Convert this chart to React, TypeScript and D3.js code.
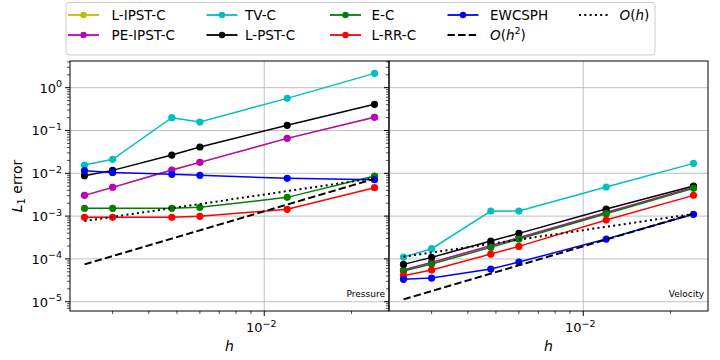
import React from 'react';
import * as d3 from 'd3';

const hValues = [0.0024, 0.003, 0.0048, 0.006, 0.012, 0.024];
const refH = [0.0024, 0.024];

// Pressure panel
const pLIPST = [0.00305, 0.00469, 0.0119, 0.018, 0.0655, 0.203];
const pPEIPST = [0.00305, 0.00469, 0.0119, 0.018, 0.0655, 0.203];
const pTV = [0.0156, 0.0212, 0.199, 0.158, 0.563, 2.16];
const pLPST = [0.00879, 0.0117, 0.0267, 0.0411, 0.132, 0.408];
const pEC = [0.00152, 0.00152, 0.00152, 0.0016, 0.00274, 0.00863];
const pLRR = [0.000934, 0.000934, 0.000934, 0.000986, 0.00144, 0.00461];
const pEWC = [0.0115, 0.0105, 0.00944, 0.00895, 0.00762, 0.00709];
const pOh = [7.67e-4, 7.67e-3];
const pOh2 = [7.45e-5, 7.45e-3];

// Velocity panel
const vLIPST = [5.5e-5, 8.3e-5, 2.03e-4, 3.13e-4, 1.22e-3, 4.69e-3];
const vPEIPST = [5.5e-5, 8.3e-5, 2.03e-4, 3.13e-4, 1.22e-3, 4.69e-3];
const vTV = [1.106e-4, 1.73e-4, 1.31e-3, 1.31e-3, 4.78e-3, 0.01706];
const vLPST = [7.45e-5, 1.087e-4, 2.61e-4, 3.95e-4, 1.46e-3, 5.04e-3];
const vEC = [5.21e-5, 7.59e-5, 1.86e-4, 2.91e-4, 1.14e-3, 4.45e-3];
const vLRR = [4.05e-5, 5.49e-5, 1.3e-4, 1.96e-4, 8.09e-4, 3.05e-3];
const vEWC = [3.33e-5, 3.57e-5, 5.8e-5, 8.45e-5, 2.91e-4, 1.1e-3];
const vOh = [1.125e-4, 1.125e-3];
const vOh2 = [1.135e-5, 1.135e-3];

const seriesNames = ['L-IPST-C', 'PE-IPST-C', 'TV-C', 'L-PST-C', 'E-C', 'L-RR-C', 'EWCSPH'];
const seriesColors = ['#bfbf00', '#bf00bf', '#00bfbf', '#000000', '#008000', '#ff0000', '#0000ff'];
const yTickExps = [-5, -4, -3, -2, -1, 0];

const panels = [
  { label: 'Pressure', x0: 70, series: [pLIPST, pPEIPST, pTV, pLPST, pEC, pLRR, pEWC], oh: pOh, oh2: pOh2 },
  { label: 'Velocity', x0: 389, series: [vLIPST, vPEIPST, vTV, vLPST, vEC, vLRR, vEWC], oh: vOh, oh2: vOh2 },
];

const FONT = 'DejaVu Sans, sans-serif';
const panelW = 319;
const top = 61;
const bottom = 311;

const yScale = d3.scaleLog().domain([6.07e-6, 4.2]).range([bottom, top]);

const Pow10 = ({ x, y, exp, anchor }: { x: number; y: number; exp: number; anchor: string }) => (
  <text x={x} y={y} textAnchor={anchor} fontFamily={FONT} fontSize={13} fill="#000">
    10<tspan dy={-5.5} fontSize={9.5}>{exp < 0 ? '\u2212' + Math.abs(exp) : exp}</tspan>
  </text>
);

const Panel = ({ p, showY }: { p: any; showY: boolean }) => {
  const x = d3.scaleLog().domain([0.0024 / Math.pow(10, 0.05), 0.024 * Math.pow(10, 0.05)]).range([p.x0, p.x0 + panelW]);
  const line = d3.line<[number, number]>().x(d => x(d[0])).y(d => yScale(d[1]));
  const xMinor = [0.003, 0.004, 0.005, 0.006, 0.007, 0.008, 0.009, 0.02];
  const yMinor: number[] = [];
  for (let e = -6; e <= 0; e++) for (let m = 2; m <= 9; m++) {
    const v = m * Math.pow(10, e);
    if (v >= 6.07e-6 && v <= 4.2) yMinor.push(v);
  }
  const x2 = p.x0 + panelW;
  return (
    <g>
      {/* grid */}
      {yTickExps.map(e => (
        <line key={'gy' + e} x1={p.x0} x2={x2} y1={yScale(Math.pow(10, e))} y2={yScale(Math.pow(10, e))} stroke="#b0b0b0" strokeWidth={0.8} />
      ))}
      <line x1={x(0.01)} x2={x(0.01)} y1={top} y2={bottom} stroke="#b0b0b0" strokeWidth={0.8} />

      {/* series */}
      {p.series.map((s: number[], i: number) => (
        <g key={i}>
          <path d={line(hValues.map((h, j) => [h, s[j]]) as any) || ''} fill="none" stroke={seriesColors[i]} strokeWidth={1.5} />
          {hValues.map((h, j) => (
            <circle key={j} cx={x(h)} cy={yScale(s[j])} r={3.6} fill={seriesColors[i]} />
          ))}
        </g>
      ))}
      <path d={line(refH.map((h, j) => [h, p.oh2[j]]) as any) || ''} fill="none" stroke="#000" strokeWidth={2} strokeDasharray="7.4,3.2" />
      <path d={line(refH.map((h, j) => [h, p.oh[j]]) as any) || ''} fill="none" stroke="#000" strokeWidth={2} strokeDasharray="2,3.3" />

      <text x={x2 - 4} y={297} textAnchor="end" fontFamily={FONT} fontSize={9}>{p.label}</text>

      {/* spines */}
      <rect x={p.x0} y={top} width={panelW} height={bottom - top} fill="none" stroke="#000" strokeWidth={1} />

      {/* x ticks */}
      <line x1={x(0.01)} x2={x(0.01)} y1={bottom} y2={bottom + 5} stroke="#000" strokeWidth={1} />
      {xMinor.map(v => (
        <line key={'xm' + v} x1={x(v)} x2={x(v)} y1={bottom} y2={bottom + 3} stroke="#000" strokeWidth={0.7} />
      ))}
      <Pow10 x={x(0.01) - 3} y={332} exp={-2} anchor="middle" />
      <text x={p.x0 + panelW / 2} y={351} textAnchor="middle" fontFamily={FONT} fontSize={14} fontStyle="italic">h</text>

      {/* y ticks */}
      {yTickExps.map(e => (
        <line key={'yt' + e} x1={p.x0 - 5} x2={p.x0} y1={yScale(Math.pow(10, e))} y2={yScale(Math.pow(10, e))} stroke="#000" strokeWidth={1} />
      ))}
      {yMinor.map(v => (
        <line key={'ym' + v} x1={p.x0 - 3} x2={p.x0} y1={yScale(v)} y2={yScale(v)} stroke="#000" strokeWidth={0.7} />
      ))}
      {showY && yTickExps.map(e => (
        <Pow10 key={'yl' + e} x={p.x0 - 8} y={yScale(Math.pow(10, e)) + 5} exp={e} anchor="end" />
      ))}
    </g>
  );
};

const legendCols = [
  { hx: 68, tx: 111.5 },
  { hx: 206.5, tx: 245 },
  { hx: 330, tx: 371.5 },
  { hx: 447.5, tx: 490 },
  { hx: 579, tx: 619.5 },
];
const rowY = [15, 35];

const App = () => {
  const legendItems: any[] = seriesNames.map((n, i) => ({ kind: 'series', name: n, color: seriesColors[i] }));
  legendItems.push({ kind: 'oh2' });
  legendItems.push({ kind: 'oh' });

  return (
    <div style={{ position: 'fixed', left: 0, top: 0 }}>
      <svg width={720} height={360} style={{ display: 'block', background: '#fff' }}>
        {panels.map((p, i) => <Panel key={p.label} p={p} showY={i === 0} />)}

        <text transform={`translate(22,${(top + bottom) / 2}) rotate(-90)`} textAnchor="middle" fontFamily={FONT} fontSize={14}>
          <tspan fontStyle="italic">L</tspan><tspan dy={3} fontSize={10}>1</tspan><tspan dy={-3}> error</tspan>
        </text>

        {/* legend */}
        <rect x={66} y={2.5} width={589} height={52.5} rx={3} fill="#fff" fillOpacity={0.8} stroke="#cccccc" strokeWidth={1} />
        {legendItems.map((it, i) => {
          const col = legendCols[Math.floor(i / 2)];
          const y = rowY[i % 2];
          return (
            <g key={i}>
              {it.kind === 'series' && (
                <g>
                  <line x1={col.hx} x2={col.hx + 31} y1={y} y2={y} stroke={it.color} strokeWidth={1.8} />
                  <circle cx={col.hx + 15.5} cy={y} r={3.2} fill={it.color} />
                  <text x={col.tx} y={y + 5} fontFamily={FONT} fontSize={13.5}>{it.name}</text>
                </g>
              )}
              {it.kind === 'oh2' && (
                <g>
                  <line x1={col.hx} x2={col.hx + 31} y1={y} y2={y} stroke="#000" strokeWidth={2} strokeDasharray="7.4,3.2" />
                  <text x={col.tx} y={y + 5} fontFamily={FONT} fontSize={13.5}>
                    <tspan fontStyle="italic">O</tspan>(<tspan fontStyle="italic">h</tspan><tspan dy={-6} fontSize={9.5}>2</tspan><tspan dy={6}>)</tspan>
                  </text>
                </g>
              )}
              {it.kind === 'oh' && (
                <g>
                  <line x1={col.hx} x2={col.hx + 31} y1={y} y2={y} stroke="#000" strokeWidth={2} strokeDasharray="2,3.3" />
                  <text x={col.tx} y={y + 5} fontFamily={FONT} fontSize={13.5}>
                    <tspan fontStyle="italic">O</tspan>(<tspan fontStyle="italic">h</tspan>)
                  </text>
                </g>
              )}
            </g>
          );
        })}
      </svg>
    </div>
  );
};

export default App;
